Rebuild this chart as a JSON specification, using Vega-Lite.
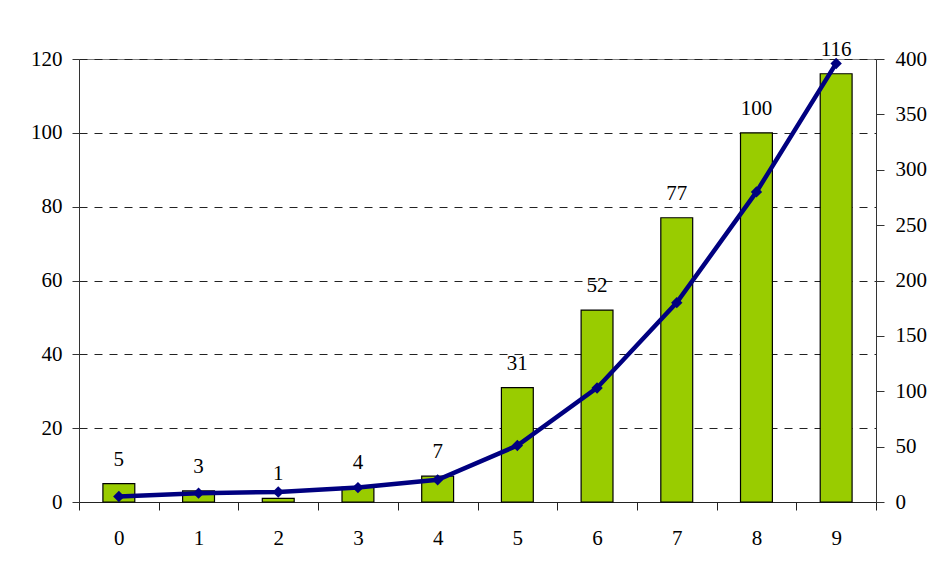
{
  "$schema": "https://vega.github.io/schema/vega-lite/v6.json",
  "width": 797,
  "height": 443,
  "autosize": {"type": "none"},
  "padding": {"left": 79, "top": 59, "right": 59, "bottom": 68},
  "background": "white",
  "config": {
    "view": {"stroke": "#808080", "strokeWidth": 1},
    "font": "Liberation Serif",
    "axis": {
      "labelFont": "Liberation Serif",
      "labelFontSize": 21,
      "labelColor": "black",
      "domainColor": "#333333",
      "tickColor": "#333333",
      "title": null
    }
  },
  "data": {
    "values": [
      {"k": "0", "count": 5, "cum": 5},
      {"k": "1", "count": 3, "cum": 8},
      {"k": "2", "count": 1, "cum": 9},
      {"k": "3", "count": 4, "cum": 13},
      {"k": "4", "count": 7, "cum": 20},
      {"k": "5", "count": 31, "cum": 51},
      {"k": "6", "count": 52, "cum": 103},
      {"k": "7", "count": 77, "cum": 180},
      {"k": "8", "count": 100, "cum": 280},
      {"k": "9", "count": 116, "cum": 396}
    ]
  },
  "encoding": {
    "x": {
      "field": "k",
      "type": "ordinal",
      "sort": null,
      "scale": {"paddingInner": 0, "paddingOuter": 0},
      "axis": {
        "labelAngle": 0,
        "tickBand": "extent",
        "tickSize": 8,
        "labelPadding": 17,
        "domainColor": "#222222",
        "tickColor": "#222222"
      }
    }
  },
  "layer": [
    {
      "layer": [
        {
          "mark": {"type": "bar", "color": "#99CC00", "stroke": "black", "strokeWidth": 1.2, "width": {"band": 0.4}},
          "encoding": {
            "y": {
              "field": "count",
              "type": "quantitative",
              "scale": {"domain": [0, 120], "nice": false},
              "axis": {
                "orient": "left",
                "values": [0, 20, 40, 60, 80, 100, 120],
                "tickSize": 7,
                "labelPadding": 10,
                "grid": true,
                "gridColor": "#222222",
                "gridDash": [8, 7],
                "gridWidth": 1
              }
            }
          }
        },
        {
          "mark": {"type": "text", "baseline": "alphabetic", "dy": -18, "fontSize": 21, "font": "Liberation Serif", "color": "black"},
          "encoding": {
            "y": {"field": "count", "type": "quantitative"},
            "text": {"field": "count", "type": "quantitative"}
          }
        }
      ]
    },
    {
      "layer": [
        {
          "mark": {"type": "line", "color": "#000080", "strokeWidth": 4.5},
          "encoding": {}
        },
        {
          "mark": {"type": "point", "shape": "diamond", "filled": true, "size": 130, "color": "#000080", "opacity": 1},
          "encoding": {}
        }
      ],
      "encoding": {
        "y": {
          "field": "cum",
          "type": "quantitative",
          "scale": {"domain": [0, 400], "nice": false},
          "axis": {
            "orient": "right",
            "values": [0, 50, 100, 150, 200, 250, 300, 350, 400],
            "tickSize": 8,
            "labelPadding": 11,
            "grid": false
          }
        }
      }
    }
  ],
  "resolve": {"scale": {"y": "independent"}}
}
